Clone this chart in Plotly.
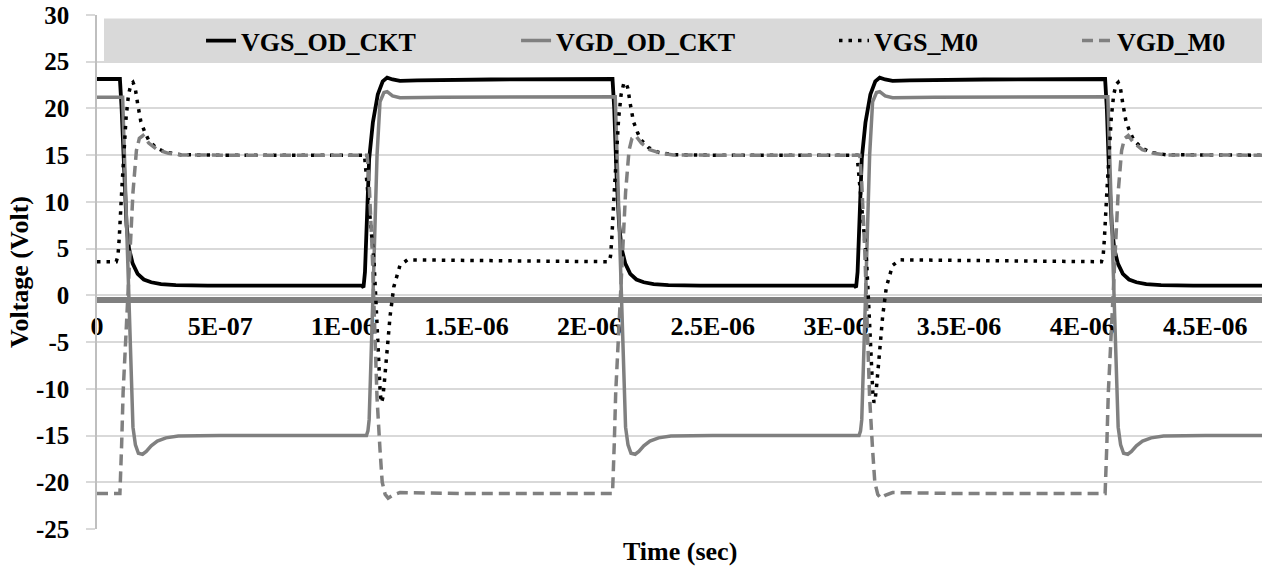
import plotly.graph_objects as go

# ---- waveform samples (time in microseconds, voltage in volts) ----
t_vgs_od = [0, 0.093, 0.100, 0.110, 0.120, 0.130, 0.145, 0.165, 0.190, 0.220, 0.260, 0.320, 0.450, 1.075,
            1.082, 1.088, 1.096, 1.105, 1.120, 1.140, 1.160, 1.178, 1.200, 1.230, 1.300, 1.600, 2.093,
            2.100, 2.110, 2.120, 2.130, 2.145, 2.165, 2.190, 2.220, 2.260, 2.320, 2.450, 3.075,
            3.082, 3.088, 3.096, 3.105, 3.120, 3.140, 3.160, 3.178, 3.200, 3.230, 3.300, 3.600, 4.093,
            4.100, 4.110, 4.120, 4.130, 4.145, 4.165, 4.190, 4.220, 4.260, 4.320, 4.450, 4.730]
v_vgs_od = [23.15, 23.15, 20.0, 12.5, 7.5, 5.0, 3.4, 2.3, 1.7, 1.4, 1.2, 1.1, 1.05, 1.05,
            0.85, 2.5, 9.0, 14.6, 18.5, 21.5, 22.9, 23.3, 23.1, 22.95, 23.0, 23.1, 23.15,
            20.0, 12.5, 7.5, 5.0, 3.4, 2.3, 1.7, 1.4, 1.2, 1.1, 1.05, 1.05,
            0.85, 2.5, 9.0, 14.6, 18.5, 21.5, 22.9, 23.3, 23.1, 22.95, 23.0, 23.1, 23.15,
            20.0, 12.5, 7.5, 5.0, 3.4, 2.3, 1.7, 1.4, 1.2, 1.1, 1.05, 1.05]

t_vgd_od = [0, 0.104, 0.125, 0.146, 0.156, 0.168, 0.185, 0.200, 0.220, 0.245, 0.280, 0.330, 0.500, 1.094,
            1.100, 1.105, 1.121, 1.137, 1.149, 1.165, 1.178, 1.200, 1.230, 1.400, 2.104,
            2.125, 2.146, 2.156, 2.168, 2.185, 2.200, 2.220, 2.245, 2.280, 2.330, 2.500, 3.094,
            3.100, 3.105, 3.121, 3.137, 3.149, 3.165, 3.178, 3.200, 3.230, 3.400, 4.104,
            4.125, 4.146, 4.156, 4.168, 4.185, 4.200, 4.220, 4.245, 4.280, 4.330, 4.500, 4.730]
v_vgd_od = [21.2, 21.2, 3.5, -14.1, -16.0, -16.9, -17.0, -16.7, -16.1, -15.6, -15.25, -15.05, -15.0, -15.0,
            -14.5, -13.3, 0.5, 15.0, 20.7, 21.7, 21.8, 21.35, 21.15, 21.2, 21.25,
            3.5, -14.1, -16.0, -16.9, -17.0, -16.7, -16.1, -15.6, -15.25, -15.05, -15.0, -15.0,
            -14.5, -13.3, 0.5, 15.0, 20.7, 21.7, 21.8, 21.35, 21.15, 21.2, 21.25,
            3.5, -14.1, -16.0, -16.9, -17.0, -16.7, -16.1, -15.6, -15.25, -15.05, -15.0, -15.0]

t_vgs_m0 = [0, 0.078, 0.085, 0.090, 0.100, 0.110, 0.118, 0.128, 0.138, 0.146, 0.155, 0.165, 0.178, 0.195,
            0.210, 0.240, 0.280, 0.340, 0.500, 1.086,
            1.093, 1.103, 1.115, 1.125, 1.135, 1.143, 1.150, 1.155, 1.160, 1.166, 1.180, 1.190, 1.205,
            1.230, 1.260, 1.600, 2.078,
            2.085, 2.090, 2.100, 2.110, 2.118, 2.128, 2.138, 2.146, 2.155, 2.165, 2.178, 2.195,
            2.210, 2.240, 2.280, 2.340, 2.500, 3.086,
            3.093, 3.103, 3.115, 3.125, 3.135, 3.143, 3.150, 3.155, 3.160, 3.166, 3.180, 3.190, 3.205,
            3.230, 3.260, 3.600, 4.078,
            4.085, 4.090, 4.100, 4.110, 4.118, 4.128, 4.138, 4.146, 4.155, 4.165, 4.178, 4.195,
            4.210, 4.240, 4.280, 4.340, 4.500, 4.730]
v_vgs_m0 = [3.6, 3.6, 4.2, 6.0, 11.0, 16.0, 19.0, 21.5, 22.6, 22.8, 22.2, 20.5, 18.6, 17.4,
            16.6, 15.8, 15.3, 15.05, 15.0, 15.0,
            13.0, 9.5, 6.0, 3.5, -2.0, -7.0, -10.5, -11.5, -11.0, -9.5, -5.0, -2.2, 0.9,
            3.2, 3.8, 3.75, 3.6,
            4.2, 6.0, 11.0, 16.0, 19.0, 21.5, 22.6, 22.8, 22.2, 20.5, 18.6, 17.4,
            16.6, 15.8, 15.3, 15.05, 15.0, 15.0,
            13.0, 9.5, 6.0, 3.5, -2.0, -7.0, -10.5, -11.5, -11.0, -9.5, -5.0, -2.2, 0.9,
            3.2, 3.8, 3.75, 3.6,
            4.2, 6.0, 11.0, 16.0, 19.0, 21.5, 22.6, 22.8, 22.2, 20.5, 18.6, 17.4,
            16.6, 15.8, 15.3, 15.05, 15.0, 15.0]

t_vgd_m0 = [0, 0.093, 0.100, 0.106, 0.126, 0.146, 0.160, 0.172, 0.187, 0.210, 0.244, 0.290, 0.340, 0.500, 1.097,
            1.105, 1.117, 1.137, 1.149, 1.158, 1.170, 1.182, 1.200, 1.230, 1.500, 2.093,
            2.100, 2.106, 2.126, 2.146, 2.160, 2.172, 2.187, 2.210, 2.244, 2.290, 2.340, 2.500, 3.097,
            3.105, 3.117, 3.137, 3.149, 3.158, 3.170, 3.182, 3.200, 3.230, 3.500, 4.093,
            4.100, 4.106, 4.126, 4.146, 4.160, 4.172, 4.187, 4.210, 4.244, 4.290, 4.340, 4.500, 4.730]
v_vgd_m0 = [-21.2, -21.2, -16.0, -10.4, 0.3, 11.0, 15.5, 16.8, 17.1, 16.3, 15.6, 15.2, 15.03, 15.0, 15.0,
            12.0, 4.9, -11.0, -16.5, -20.0, -21.3, -21.7, -21.4, -21.1, -21.2, -21.2,
            -16.0, -10.4, 0.3, 11.0, 15.5, 16.8, 17.1, 16.3, 15.6, 15.2, 15.03, 15.0, 15.0,
            12.0, 4.9, -11.0, -16.5, -20.0, -21.3, -21.7, -21.4, -21.1, -21.2, -21.2,
            -16.0, -10.4, 0.3, 11.0, 15.5, 16.8, 17.1, 16.3, 15.6, 15.2, 15.03, 15.0, 15.0]

# ---- axis ticks ----
x_tick_vals_us = [0, 0.5, 1.0, 1.5, 2.0, 2.5, 3.0, 3.5, 4.0, 4.5]
x_tick_text = ["0", "5E-07", "1E-06", "1.5E-06", "2E-06", "2.5E-06", "3E-06", "3.5E-06", "4E-06", "4.5E-06"]
y_tick_vals = [-25, -20, -15, -10, -5, 0, 5, 10, 15, 20, 25, 30]
y_tick_text = ["-25", "-20", "-15", "-10", "-5", "0", "5", "10", "15", "20", "25", "30"]

US = 1e-6  # microseconds -> seconds


def sec(values):
    return [v * US for v in values]


FONT = "'Liberation Serif', 'Times New Roman', serif"
GRAY = "#808080"

fig = go.Figure()
fig.add_trace(go.Scatter(x=sec(t_vgs_od), y=v_vgs_od, mode="lines", name="VGS_OD_CKT",
                         line=dict(color="#000000", width=3.8), legend="legend"))
fig.add_trace(go.Scatter(x=sec(t_vgd_od), y=v_vgd_od, mode="lines", name="VGD_OD_CKT",
                         line=dict(color=GRAY, width=3.5), legend="legend2"))
fig.add_trace(go.Scatter(x=sec(t_vgs_m0), y=v_vgs_m0, mode="lines", name="VGS_M0",
                         line=dict(color="#000000", width=3.5, dash="3.5px,6px"), legend="legend3"))
fig.add_trace(go.Scatter(x=sec(t_vgd_m0), y=v_vgd_m0, mode="lines", name="VGD_M0",
                         line=dict(color=GRAY, width=3.5, dash="11px,6px"), legend="legend4"))

legend_font = dict(family=FONT, size=26, color="#000000", weight="bold")


def legend_at(xp):
    return dict(x=xp, xanchor="left", y=0.95, yanchor="middle", orientation="h",
                bgcolor="rgba(0,0,0,0)", borderwidth=0, font=legend_font, itemwidth=30)


fig.update_layout(
    width=1263, height=576,
    margin=dict(l=97, r=1, t=15, b=47),
    paper_bgcolor="white", plot_bgcolor="white",
    font=dict(family=FONT, color="#000000"),
    showlegend=True,
    legend=legend_at(0.0893),
    legend2=legend_at(0.3597),
    legend3=legend_at(0.6326),
    legend4=legend_at(0.8412),
    xaxis=dict(
        range=[0, 4.73 * US],
        anchor="free", position=0.446,
        tickvals=sec(x_tick_vals_us), ticktext=x_tick_text,
        tickfont=dict(family=FONT, size=26, color="#000000", weight="bold"),
        ticks="", showgrid=False, zeroline=False,
        showline=True, linewidth=6, linecolor=GRAY,
        layer="below traces", ticklabelstandoff=1,
    ),
    yaxis=dict(
        range=[-25, 30], tickvals=y_tick_vals, ticktext=y_tick_text,
        tickfont=dict(family=FONT, size=25, color="#000000", weight="bold"),
        ticks="outside", ticklen=9, tickcolor="#d9d9d9", tickwidth=1.5,
        showgrid=True, gridcolor="#d9d9d9", gridwidth=1.5,
        zeroline=False, showline=True, linecolor="#bfbfbf", linewidth=1.5,
        ticklabelstandoff=12,
        title=dict(text="Voltage (Volt)", standoff=0,
                   font=dict(family=FONT, size=26, color="#000000", weight="bold")),
        automargin=False,
    ),
    shapes=[dict(type="rect", xref="paper", yref="paper", x0=0.006, x1=1.0, y0=0.9075, y1=0.9932,
                 fillcolor="#d9d9d9", line=dict(width=0), layer="between")],
    annotations=[dict(text="Time (sec)", xref="paper", yref="paper", x=0.5, y=-0.0447,
                      xanchor="center", yanchor="middle", showarrow=False,
                      font=dict(family=FONT, size=26, color="#000000", weight="bold"))],
)

fig.write_html("out.html")
